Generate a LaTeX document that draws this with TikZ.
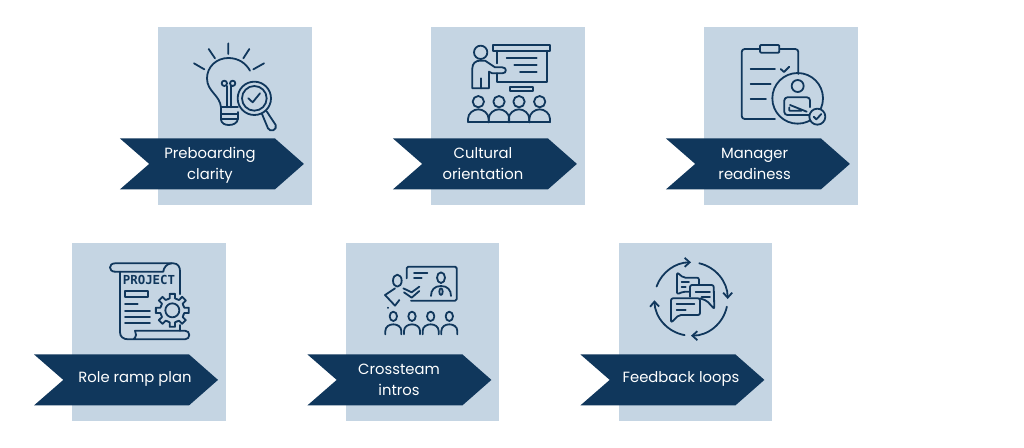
\documentclass[tikz,border=0pt]{standalone}
\usepackage{fontspec}
\setmainfont{Poppins}
\newfontfamily\projectfont{DejaVu Sans Mono}
\usetikzlibrary{arrows.meta}
\definecolor{navy}{HTML}{10375C}
\definecolor{panel}{HTML}{C5D5E3}
\tikzset{
  panelbox/.style={fill=panel,draw=none},
  ribbon/.style={fill=navy,draw=none},
  ribbontext/.style={text=white,font=\fontsize{14.8}{21}\selectfont,align=center,inner sep=0pt},
  ico/.style={draw=navy,line width=1.8pt,line cap=round,line join=round,fill=none},
  icoscope/.style={x=0.33333pt,y=-0.33333pt},
  flowarrow/.style={-{Straight Barb[length=5pt,width=9pt,line width=1.8pt]}},
}
\newcommand{\cardbase}[2]{%
  \fill[panelbox] (#1,#2) rectangle ++(153.6,177.4);
  \fill[ribbon] (#1-38.4,#2+111.2) -- (#1+116.6,#2+111.2) -- (#1+145.6,#2+136.7) -- (#1+116.6,#2+162.2) -- (#1-38.4,#2+162.2) -- (#1-9.1,#2+136.7) -- cycle;
}
\begin{document}
\begin{tikzpicture}[x=1pt,y=-1pt]
\useasboundingbox[fill=white] (0,0) rectangle (1024,447);
% panels and ribbons
\cardbase{158.3}{27.2}
\cardbase{431.3}{27.2}
\cardbase{704.3}{27.2}
\cardbase{72.4}{243.2}
\cardbase{345.8}{243.2}
\cardbase{618.8}{243.2}
% labels
\node[ribbontext] (t1) at (210,164.8) {Preboarding\\clarity};
\node[ribbontext] (t2) at (483,163.8) {Cultural\\orientation};
\node[ribbontext] (t3) at (754.7,163.8) {Manager\\readiness};
\node[ribbontext] (t4) at (135,379) {Role ramp plan};
\node[ribbontext] (t5) at (399,379.8) {Crossteam\\intros};
\node[ribbontext] (t6) at (681,379) {Feedback loops};
% icon 1: bulb and magnifier
\begin{scope}[shift={(110,20)},icoscope]
  \draw[ico] (355,70)--(355,102) (296,87)--(315,115) (418,87)--(400,115) (252,130)--(283,148) (462,130)--(430,148);
  \draw[ico] (333,262) .. controls (330,225) and (291,215) .. (291,175) .. controls (291,140) and (320,114) .. (355,114) .. controls (385,114) and (408,130) .. (420,152);
  \draw[ico] (333,262)--(384,262);
  \draw[ico] (333,262)--(333,298) .. controls (333,310) and (345,315) .. (356,315) .. controls (370,315) and (382,310) .. (384,296)--(384,276);
  \draw[ico] (333,281)--(380,281) (333,298)--(384,298);
  \draw[ico] (343,190) circle[radius=8] (368,190) circle[radius=8];
  \draw[ico] (350,198)--(350,262) (362,198)--(362,262);
  \draw[ico] (433,235) circle[radius=50] (433,235) circle[radius=37];
  \draw[ico] (415,235)--(428,247)--(450,220);
  \draw[ico] (456,282)--(474,325) .. controls (480,338) and (503,330) .. (497,315)--(470,274);
\end{scope}
% icon 2: presenter and audience
\begin{scope}[shift={(385,20)},icoscope]
  \draw[ico] (325,75) rectangle (495,92);
  \draw[ico] (335,130)--(335,92) (485,92)--(485,185)--(335,185)--(335,160);
  \draw[ico] (365,115)--(455,115) (388,135)--(455,135) (405,157)--(455,157);
  \draw[ico] (375,200) rectangle (445,213);
  \draw[ico] (287,97) circle[radius=20];
  \draw[ico] (262,205)--(262,145) .. controls (262,130) and (272,122) .. (285,122)--(300,122)--(330,142)--(352,142) .. controls (366,142) and (366,160) .. (352,160)--(322,160)--(312,155)--(312,205)--cycle;
  \draw[ico] (287,175)--(287,205);
  \foreach \cx in {280,342,402,464}{
    \draw[ico] (\cx,245) circle[radius=17];
    \draw[ico] (\cx-31,307)--(\cx-31,297) .. controls (\cx-31,280) and (\cx-15,268) .. (\cx,268) .. controls (\cx+15,268) and (\cx+31,280) .. (\cx+31,297)--(\cx+31,307);
  }
  \draw[ico] (251,307)--(495,307);
\end{scope}
% icon 3: clipboard and manager
\begin{scope}[shift={(660,20)},icoscope]
  \draw[ico,rounded corners=3pt] (345,297)--(245,297)--(245,87)--(415,87)--(415,162);
  \draw[ico,fill=panel,rounded corners=1pt] (300,75) rectangle (358,98);
  \draw[ico] (272,147)--(345,147) (272,192)--(332,192) (272,238)--(318,238);
  \draw[ico] (362,147)--(372,156)--(388,140);
  \draw[ico] (413,235) circle[radius=76];
  \draw[ico] (413,198) circle[radius=18];
  \draw[ico,rounded corners=3pt] (450,285)--(373,285)--(373,232)--(450,232)--(450,262);
  \draw[ico] (390,255)--(440,275) (388,262)--(388,272)--(425,272);
  \draw[ico,fill=panel] (472,290) circle[radius=24];
  \draw[ico] (461,290)--(469,298)--(484,282);
\end{scope}
% icon 4: project scroll and gear
\begin{scope}[shift={(25,235)},icoscope]
  \draw[ico] (270,110) .. controls (250,110) and (250,85) .. (270,85)--(445,85) .. controls (458,85) and (465,95) .. (465,108)--(465,178);
  \draw[ico] (270,110)--(415,110) .. controls (415,100) and (425,85) .. (440,85);
  \draw[ico] (285,110)--(285,292) .. controls (285,305) and (295,313) .. (310,313)--(480,313) .. controls (497,313) and (497,287) .. (480,287)--(330,287) .. controls (335,295) and (335,305) .. (325,313);
  \draw[ico] (465,270)--(465,287);
  \node[text=navy,inner sep=0pt,font=\projectfont\fontsize{12.4}{13}\bfseries\selectfont] (projecttitle) at (372,135) {PROJECT};
  \draw[ico] (300,167) rectangle (370,185);
  \draw[ico] (300,208)--(338,208) (300,227)--(375,227) (300,246)--(375,246) (300,265)--(375,265);
  \draw[ico] (442,226) circle[radius=21];
  \foreach \a in {0,45,...,315}{
    \draw[ico] ({442+36*cos(\a-22.5)},{226+36*sin(\a-22.5)})--({442+37*cos(\a-12)},{226+37*sin(\a-12)})--({442+50*cos(\a-9)},{226+50*sin(\a-9)})--({442+50*cos(\a+9)},{226+50*sin(\a+9)})--({442+37*cos(\a+12)},{226+37*sin(\a+12)})--({442+36*cos(\a+22.5)},{226+36*sin(\a+22.5)});
  }
\end{scope}
% icon 5: crossteam intro
\begin{scope}[shift={(300,235)},icoscope]
  \draw[ico,rounded corners=1.5pt] (320,130)--(320,95)--(470,95)--(470,197)--(333,197);
  \draw[ico] (342,113)--(382,113) (342,130)--(365,130);
  \draw[ico] (423,128) ellipse[x radius=12,y radius=16];
  \draw[ico] (393,183) .. controls (393,165) and (403,153) .. (423,153) .. controls (443,153) and (453,165) .. (453,183);
  \draw[ico] (423,170) ellipse[x radius=5,y radius=10];
  \draw[ico] (292,137) ellipse[x radius=13,y radius=18];
  \draw[ico] (310,160)--(335,172)--(358,155) (312,172)--(335,188)--(358,168);
  \draw[ico] (285,160)--(255,180)--(285,212)--(298,195);
  \draw[ico] (265,218)--(265,219);
  \foreach \cx in {280,336,392,448}{
    \draw[ico] (\cx,244) ellipse[x radius=11,y radius=14];
    \draw[ico] (\cx-24,298)--(\cx-24,288) .. controls (\cx-24,275) and (\cx-12,268) .. (\cx,268) .. controls (\cx+12,268) and (\cx+24,275) .. (\cx+24,288)--(\cx+24,298);
  }
\end{scope}
% icon 6: feedback loops
\begin{scope}[shift={(575,235)},icoscope]
  \draw[ico,flowarrow] ({348+110*cos(100)},{192+110*sin(100)}) arc[start angle=100,end angle=178,radius=110];
  \draw[ico,flowarrow] ({348+110*cos(200)},{192+110*sin(200)}) arc[start angle=200,end angle=270,radius=110];
  \draw[ico,flowarrow] ({348+110*cos(283)},{192+110*sin(283)}) arc[start angle=283,end angle=360,radius=110];
  \draw[ico,flowarrow] ({348+110*cos(12)},{192+110*sin(12)}) arc[start angle=12,end angle=90,radius=110];
  \draw[ico,rounded corners=2pt] (345,170)--(325,170)--(306,178)--(306,112)--(325,128)--(372,128)--(372,150);
  \draw[ico] (320,140)--(342,140) (320,155)--(332,155);
  \draw[ico,rounded corners=2pt] (345,185)--(345,150)--(416,150)--(418,222)--(395,197)--(375,190);
  \draw[ico] (362,170)--(405,170) (380,185)--(405,185);
  \draw[ico,fill=panel,rounded corners=2pt] (288,190)--(375,190)--(375,240)--(312,240)--(288,263)--cycle;
  \draw[ico] (305,207)--(358,207) (305,225)--(332,225);
\end{scope}
\end{tikzpicture}
\end{document}
